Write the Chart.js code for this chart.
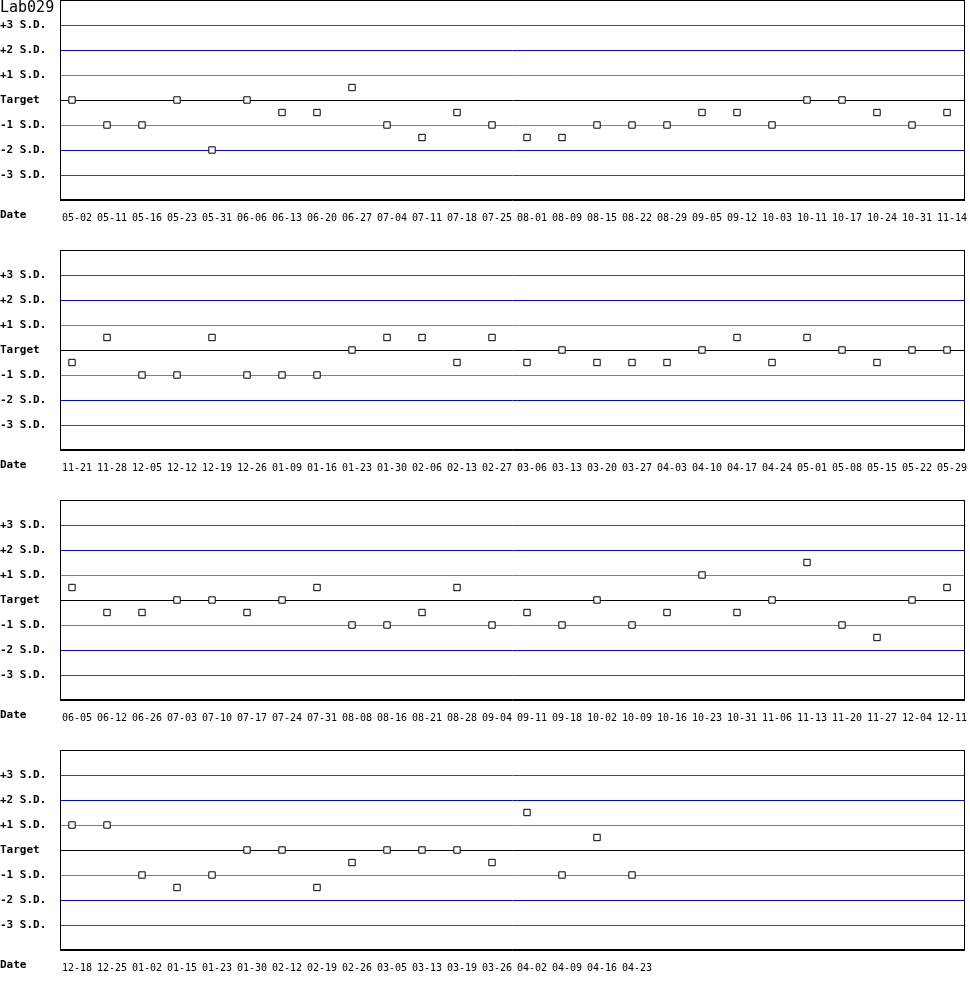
<!DOCTYPE html>
<html>
<head>
<meta charset="utf-8">
<script src="https://cdn.jsdelivr.net/npm/chart.js@4.4.0/dist/chart.umd.min.js"></script>
<style>
  body { margin: 0; background: #fff; }
  #wrap { position: relative; width: 970px; height: 1000px; }
  canvas { position: absolute; left: 0; }
  .title { position: absolute; left: 0; top: -2px; font: 15px "DejaVu Sans Mono", monospace; color: #000; }
  .date { position: absolute; left: 0; font: bold 11px "DejaVu Sans Mono", monospace; color: #000; }
</style>
</head>
<body>
<div id="wrap">
  <canvas id="c1" width="970" height="250" style="top:0px"></canvas>
  <canvas id="c2" width="970" height="250" style="top:250px"></canvas>
  <canvas id="c3" width="970" height="250" style="top:500px"></canvas>
  <canvas id="c4" width="970" height="250" style="top:750px"></canvas>
  <div class="title">Lab029</div>
  <div class="date" style="top:208px">Date</div>
  <div class="date" style="top:458px">Date</div>
  <div class="date" style="top:708px">Date</div>
  <div class="date" style="top:958px">Date</div>
</div>
<script>
// dates and S.D. values per row
const dates1 = ['05-02','05-11','05-16','05-23','05-31','06-06','06-13','06-20','06-27','07-04','07-11','07-18','07-25',
                '08-01','08-09','08-15','08-22','08-29','09-05','09-12','10-03','10-11','10-17','10-24','10-31','11-14'];
const values1 = [0,-1,-1,0,-2,0,-0.5,-0.5,0.5,-1,-1.5,-0.5,-1,-1.5,-1.5,-1,-1,-1,-0.5,-0.5,-1,0,0,-0.5,-1,-0.5];

const dates2 = ['11-21','11-28','12-05','12-12','12-19','12-26','01-09','01-16','01-23','01-30','02-06','02-13','02-27',
                '03-06','03-13','03-20','03-27','04-03','04-10','04-17','04-24','05-01','05-08','05-15','05-22','05-29'];
const values2 = [-0.5,0.5,-1,-1,0.5,-1,-1,-1,0,0.5,0.5,-0.5,0.5,-0.5,0,-0.5,-0.5,-0.5,0,0.5,-0.5,0.5,0,-0.5,0,0];

const dates3 = ['06-05','06-12','06-26','07-03','07-10','07-17','07-24','07-31','08-08','08-16','08-21','08-28','09-04',
                '09-11','09-18','10-02','10-09','10-16','10-23','10-31','11-06','11-13','11-20','11-27','12-04','12-11'];
const values3 = [0.5,-0.5,-0.5,0,0,-0.5,0,0.5,-1,-1,-0.5,0.5,-1,-0.5,-1,0,-1,-0.5,1,-0.5,0,1.5,-1,-1.5,0,0.5];

const dates4 = ['12-18','12-25','01-02','01-15','01-23','01-30','02-12','02-19','02-26','03-05','03-13','03-19','03-26',
                '04-02','04-09','04-16','04-23'];
const values4 = [1,1,-1,-1.5,-1,0,0,-1.5,-0.5,0,0,0,-0.5,1.5,-1,0.5,-1];

// y ticks from -4 to +4
const sdTicks  = [-4, -3, -2, -1, 0, 1, 2, 3, 4];
const sdLabels = ['', '-3 S.D.', '-2 S.D.', '-1 S.D.', 'Target', '+1 S.D.', '+2 S.D.', '+3 S.D.', ''];
const sdColors = ['#000000', '#ff0000', '#0000ff', '#808080', '#000000', '#808080', '#0000ff', '#ff0000', '#000000'];

const boxPlugin = {
    id: 'box',
    afterDraw(chart){
        const a = chart.chartArea;
        const ctx = chart.ctx;
        ctx.save();
        ctx.strokeStyle = '#000';
        ctx.lineWidth = 1;
        ctx.strokeRect(a.left + 0.5, a.top + 0.5, a.right - a.left - 1, a.bottom - a.top - 1);
        ctx.restore();
    }
};

function qcChart(id, dates, values){
    const ctx = document.getElementById(id);
    new Chart(ctx, {
    type: 'scatter',
    data: {
        datasets: [{
            data: values.map((v, i) => ({x: i, y: v})),
            pointStyle: 'rect',
            pointRadius: 4.5,
            pointBorderWidth: 1,
            pointBorderColor: '#000',
            pointBackgroundColor: '#fff',
            showLine: false,
        }]
    },
    options: {
        responsive: false,
        animation: false,
        devicePixelRatio: 1,
        layout: { autoPadding: false, padding: { left: 0, right: 5, top: 0, bottom: 0 } },
        scales: {
            x: {
                type: 'linear',
                min: -0.343,
                max: 25.514,
                display: false,
            },
            // date labels sit a few px right of the points
            x2: {
                type: 'linear',
                position: 'bottom',
                min: -0.486,
                max: 25.371,
                afterBuildTicks: s => { s.ticks = dates.map((d, i) => ({value: i})); },
                afterFit: s => { s.height = 50; s.paddingLeft = 0; s.paddingRight = 0; },
                grid: { display: false, drawTicks: false },
                border: { display: false },
                ticks: {
                    autoSkip: false,
                    maxRotation: 0,
                    padding: 12,
                    color: '#000',
                    font: { family: 'DejaVu Sans Mono', size: 10 },
                    callback: v => dates[v],
                },
            },
            y: {
                min: -4,
                max: 4,
                afterBuildTicks: s => { s.ticks = sdTicks.map(v => ({value: v})); },
                afterFit: s => { s.width = 60; s.paddingTop = 0; s.paddingBottom = 0; },
                grid: {
                    drawTicks: false,
                    color: c => sdColors[sdTicks.indexOf(c.tick.value)],
                },
                border: { display: false },
                ticks: {
                    crossAlign: 'far',
                    padding: 0,
                    color: '#000',
                    font: { family: 'DejaVu Sans Mono', size: 11, weight: 'bold' },
                    callback: v => sdLabels[sdTicks.indexOf(v)],
                },
            },
        },
        plugins: {
            legend: { display: false },
            tooltip: { enabled: false },
        }
    },
    plugins: [boxPlugin],
    });
}

qcChart('c1', dates1, values1);
qcChart('c2', dates2, values2);
qcChart('c3', dates3, values3);
qcChart('c4', dates4, values4);
</script>
</body>
</html>
